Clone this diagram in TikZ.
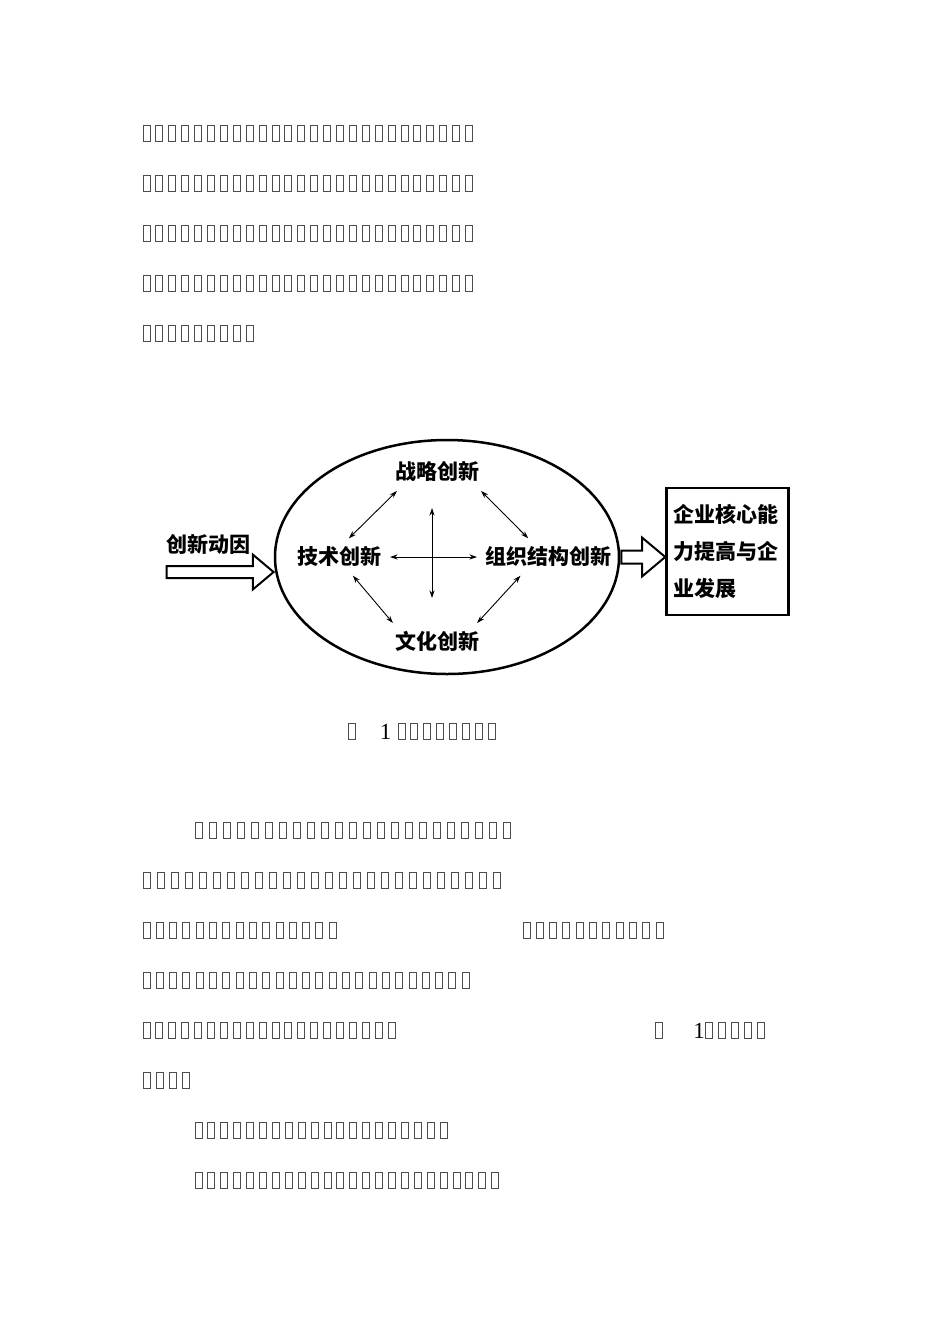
\documentclass[tikz,border=0pt]{standalone}
\usepackage{fontspec}
\setmainfont{Liberation Serif}
\newfontfamily\cjk{Noto Sans CJK SC}
\usetikzlibrary{positioning, shapes.geometric, shapes.arrows, arrows.meta}

\begin{document}
\begin{tikzpicture}[
    x=1pt, y=-1pt,
    >={Stealth[length=7.5pt,width=5pt]},
    idea/.style={inner sep=8pt, text height=18pt, text depth=3pt, font=\cjk\bfseries\fontsize{21}{25}\selectfont},
    core/.style={ellipse, draw, line width=2.5pt, minimum width=344pt, minimum height=234pt, inner sep=0pt},
    goalbox/.style={draw, line width=2.5pt, text width=108pt, align=left, inner xsep=7pt, minimum height=127pt, font=\cjk\bfseries\fontsize{21}{37}\selectfont},
    hollow/.style={single arrow, draw, line width=2pt, inner sep=5pt, single arrow head extend=11.5pt, single arrow tip angle=80},
    link/.style={<->, line width=0.9pt},
    tofu/.style={draw=black!70, line width=1pt},
    numeral/.style={inner sep=0pt, anchor=base, font=\fontsize{23}{23}\selectfont}
]

\path[use as bounding box, fill=white] (0,0) rectangle (950,1344);

% Innovation core
\node[core] (core) at (447,557) {};
\node[idea, above=66pt of core.center, xshift=-10pt] (strat) {战略创新};
\node[idea, below=66pt of core.center, xshift=-10pt] (culture) {文化创新};
\node[idea, left=57pt of core.center] (tech) {技术创新};
\node[idea, right=30pt of core.center] (org) {组织结构创新};

% Input and output
\node[hollow, minimum height=107pt, anchor=tip] (push) at (core.185) {};
\node[idea, inner sep=0pt] (cause) at (208,545) {创新动因};
\node[hollow, minimum height=44pt, inner sep=5.5pt, single arrow head extend=13pt, anchor=tail] (lift) at (core.east) {};
\node[goalbox, right=45pt of core, yshift=5.5pt] (goal) {企业核心能\\力提高与企\\业发展};

% Links between the four innovations
\draw[link] (tech.64) -- (strat.205);
\draw[link] (tech.305) -- (culture.157);
\draw[link] (strat.337) -- (org.137);
\draw[link] (culture.25) -- (org.214);
\draw[link] (tech.east) -- (org.west);
\draw[link, shorten <=17pt, shorten >=25pt] ([xshift=-5pt]strat.south) -- ([xshift=-5pt]culture.north);

% Figure numbers
\node[numeral] (fignum) at (385.5,739) {1};
\node[numeral] (figref) at (699,1038) {1};

% Body text (missing glyphs)
\foreach \x/\y/\n/\p in {143/133/26/12.9, 143/183/26/12.9, 143/233/26/12.9, 143/283/26/12.9, 143/333/9/12.9,
    348/731/1/0, 398/731/8/12.9,
    195/830/23/14, 143/880/26/14, 143/930/15/13.3, 523/930/11/13.3, 143/980/25/13.3,
    143/1030/20/12.9, 655/1030/1/0, 705/1030/5/13.2, 143/1080/4/13,
    195/1130/20/12.9, 195/1180/24/12.9}
  \foreach \i in {1,...,\n}
    \draw[tofu] ({\x+(\i-1)*\p},{\y-8}) rectangle ++(7,16);

\end{tikzpicture}
\end{document}
